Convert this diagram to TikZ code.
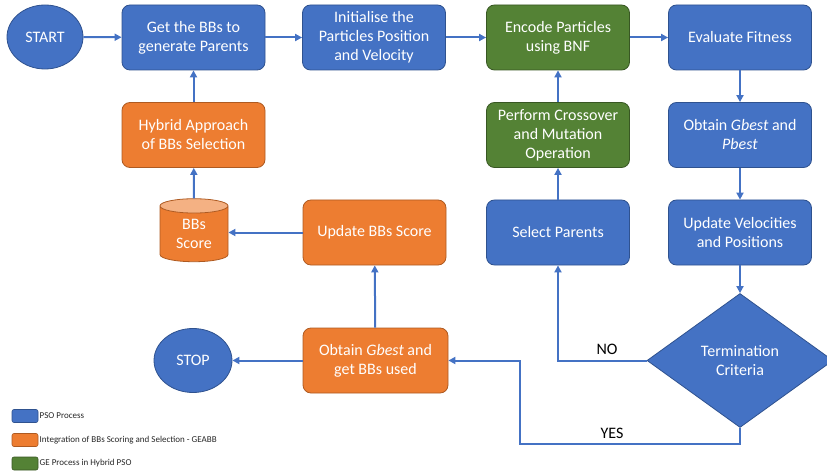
\documentclass[tikz,border=0pt]{standalone}
\usepackage{fontspec}
\setmainfont{Carlito}
\usetikzlibrary{shapes.geometric,arrows.meta}
\definecolor{pblue}{HTML}{4472C4}
\definecolor{pbluedk}{HTML}{2F528F}
\definecolor{porange}{HTML}{ED7D31}
\definecolor{porangedk}{HTML}{AE5A21}
\definecolor{porangelt}{HTML}{F4B183}
\definecolor{pgreen}{HTML}{548235}
\definecolor{pgreendk}{HTML}{385723}
\begin{document}
\begin{tikzpicture}[x=1pt,y=-1pt,
  txt/.style={text=white, align=center, font=\fontsize{16}{19}\selectfont},
  box/.style={txt, rectangle, rounded corners=8pt, minimum width=143pt, minimum height=65pt, inner sep=2pt, line width=0.8pt},
  bluebox/.style={box, fill=pblue, draw=pbluedk},
  orangebox/.style={box, fill=porange, draw=porangedk},
  greenbox/.style={box, fill=pgreen, draw=pgreendk},
  term/.style={txt, ellipse, fill=pblue, draw=pbluedk, line width=0.8pt, minimum width=76pt, minimum height=64pt, inner sep=0pt},
  conn/.style={draw=pblue, line width=2pt, -{Triangle[length=7pt,width=7pt]}},
  lbl/.style={font=\fontsize{16}{18}\selectfont, text=black},
  legbox/.style={rectangle, rounded corners=2pt, minimum width=26pt, minimum height=13pt, inner sep=0pt, line width=0.6pt},
  legtxt/.style={anchor=west, font=\fontsize{9}{10}\selectfont, text=black!85, inner sep=1pt}
]
\useasboundingbox (0,0) rectangle (827,473);

% row 1
\node[term] (start) at (45,37) {START};
\node[bluebox] (getbb) at (193.5,37.5) {Get the BBs to\\generate Parents};
\node[bluebox] (init) at (374,37.5) {Initialise the\\Particles Position\\and Velocity};
\node[greenbox] (enc) at (558,37.5) {Encode Particles\\using BNF};
\node[bluebox] (eval) at (740,37.5) {Evaluate Fitness};

% row 2
\node[orangebox] (hyb) at (193.5,135) {Hybrid Approach\\of BBs Selection};
\node[greenbox] (cross) at (558,135) {Perform Crossover\\and Mutation\\Operation};
\node[bluebox] (gp) at (740,135) {Obtain \textit{Gbest} and\\\textit{Pbest}};

% row 3
\node[txt, cylinder, shape border rotate=90, aspect=0.4, minimum height=63pt, minimum width=68pt, inner sep=0pt,
  cylinder uses custom fill, cylinder body fill=porange, cylinder end fill=porangelt,
  draw=porangedk, line width=0.8pt] (score) at (194,234) {BBs\\Score};
\node[orangebox] (upd) at (374.5,232.5) {Update BBs Score};
\node[bluebox] (sel) at (558,232.5) {Select Parents};
\node[bluebox] (vel) at (740,232.5) {Update Velocities\\and Positions};

% row 4
\node[term, minimum width=78pt] (stop) at (193,360.5) {STOP};
\node[orangebox, minimum width=145pt] (obt) at (375.5,360.5) {Obtain \textit{Gbest} and\\get BBs used};
\node[txt, diamond, aspect=1.39, minimum width=186pt, minimum height=134pt, inner sep=0pt,
  fill=pblue, draw=pbluedk, line width=0.8pt] (tc) at (740,360.5) {Termination\\Criteria};

% connectors
\draw[conn] (start) -- (getbb);
\draw[conn] (getbb) -- (init);
\draw[conn] (init) -- (enc);
\draw[conn] (enc) -- (eval);
\draw[conn] (eval) -- (gp);
\draw[conn] (gp) -- (vel);
\draw[conn] (vel) -- (tc.north);
\draw[conn] (tc.west) -| (sel.south);
\draw[conn] (sel) -- (cross);
\draw[conn] (cross) -- (enc);
\coordinate (yc) at (520,444);
\draw[conn] (tc.south) |- (yc) |- (obt.east);
\draw[conn] (obt) -- (stop);
\draw[conn] (obt) -- (upd);
\draw[conn] (upd.west) -- (upd.west -| score.east);
\draw[conn] (score.top) -- (hyb);
\draw[conn] (hyb) -- (getbb);

\node[lbl] (no) at (607,349) {NO};
\node[lbl] (yes) at (612,433) {YES};

% legend
\node[legbox, fill=pblue, draw=pbluedk] (l1) at (25,416) {};
\node[legtxt] (t1) at (38.5,416) {PSO Process};
\node[legbox, fill=porange, draw=porangedk] (l2) at (25,440) {};
\node[legtxt] (t2) at (38.5,440) {Integration of BBs Scoring and Selection - GEABB};
\node[legbox, fill=pgreen, draw=pgreendk] (l3) at (25,463.5) {};
\node[legtxt] (t3) at (38.5,463.5) {GE Process in Hybrid PSO};
\end{tikzpicture}
\end{document}
